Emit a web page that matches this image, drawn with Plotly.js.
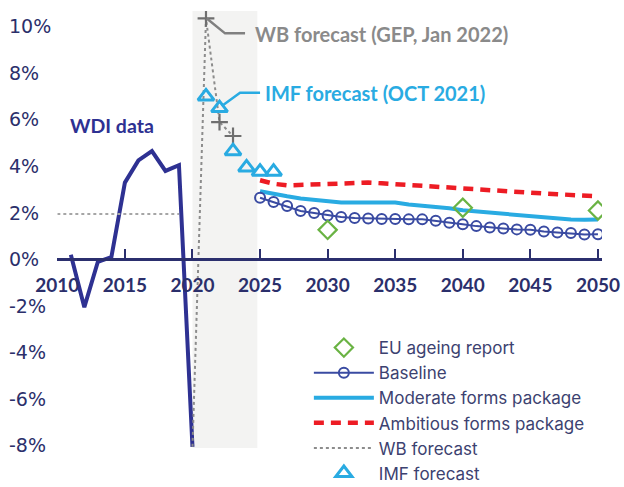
<!DOCTYPE html>
<html>
<head>
<meta charset="utf-8">
<script src="https://cdn.plot.ly/plotly-3.0.1.min.js"></script>
<style>html,body{margin:0;padding:0;background:#fff;}#chart{width:624px;height:487px;}</style>
</head>
<body>
<div id="chart"></div>
<script>
// ---- data ----
const wdiYears = [2011, 2012, 2013, 2014, 2015, 2016, 2017, 2018, 2019, 2020];
const wdiValues = [0.2, -2.05, -0.1, 0.1, 3.3, 4.25, 4.65, 3.8, 4.05, -8.05];

const wbYears = [2020, 2021, 2022, 2023];
const wbValues = [-8.05, 10.35, 5.9, 5.3];

const wbAvgYears = [2010, 2011, 2012, 2013, 2014, 2015, 2016, 2017, 2018, 2019];
const wbAvgValues = [1.95, 1.95, 1.95, 1.95, 1.95, 1.95, 1.95, 1.95, 1.95, 1.95];

const imfYears = [2021, 2022, 2023, 2024, 2025, 2026];
const imfValues = [7.0, 6.5, 4.65, 3.95, 3.77, 3.77];

const euYears = [2030, 2040, 2050];
const euValues = [1.27, 2.22, 2.1];

const projYears = [2025, 2026, 2027, 2028, 2029, 2030, 2031, 2032, 2033, 2034, 2035, 2036, 2037,
                   2038, 2039, 2040, 2041, 2042, 2043, 2044, 2045, 2046, 2047, 2048, 2049, 2050];
const baselineValues = [2.65, 2.47, 2.29, 2.08, 1.99, 1.89, 1.82, 1.78, 1.76, 1.74, 1.74, 1.72, 1.72,
                        1.66, 1.57, 1.51, 1.43, 1.37, 1.33, 1.29, 1.27, 1.20, 1.16, 1.13, 1.07, 1.08];
const moderateValues = [2.93, 2.80, 2.71, 2.62, 2.55, 2.49, 2.45, 2.44, 2.44, 2.44, 2.44, 2.36, 2.30,
                        2.28, 2.20, 2.11, 2.06, 2.01, 1.97, 1.90, 1.83, 1.80, 1.76, 1.71, 1.70, 1.71];
const ambitiousValues = [3.40, 3.25, 3.18, 3.20, 3.23, 3.27, 3.30, 3.31, 3.30, 3.27, 3.23, 3.19, 3.15,
                         3.11, 3.07, 3.03, 3.00, 2.96, 2.93, 2.89, 2.86, 2.83, 2.80, 2.77, 2.74, 2.71];

const xTickVals = [2010, 2015, 2020, 2025, 2030, 2035, 2040, 2045, 2050];
const yTickVals = [-8, -6, -4, -2, 0, 2, 4, 6, 8, 10];
const yTickText = ['-8%', '-6%', '-4%', '-2%', '0%', '2%', '4%', '6%', '8%', '10%'];

const seriesNames = ['EU ageing report', 'Baseline', 'Moderate forms package',
                     'Ambitious forms package', 'WB forecast', 'IMF forecast'];

// ---- style ----
const NAVY = '#2e3192';
const TXT = '#2b2f6b';
const LBLUE = '#29abe2';
const yRange = [-8.1, 10.67];
const xRange = [2010, 2050.3];

const traces = [
  { x: wbAvgYears, y: wbAvgValues, yaxis: 'y2', mode: 'lines', showlegend: false, hoverinfo: 'skip',
    line: { color: '#a6a6a6', width: 2.2, dash: 'dot' } },
  { x: wdiYears, y: wdiValues, mode: 'lines', showlegend: false,
    line: { color: NAVY, width: 4 } },
  { x: wbYears, y: wbValues, mode: 'lines', name: seriesNames[4], legendrank: 5,
    line: { color: '#8c8c8c', width: 2, dash: 'dot' } },
  { x: wbYears.slice(1), y: wbValues.slice(1), mode: 'markers', showlegend: false,
    marker: { symbol: 'cross-thin-open', size: 12, color: '#6f6f6f', line: { width: 2.2, color: '#6f6f6f' } } },
  { x: projYears, y: ambitiousValues, mode: 'lines', name: seriesNames[3], legendrank: 4,
    line: { color: '#ed1c24', width: 4.5, dash: '10px,7px' } },
  { x: projYears, y: moderateValues, mode: 'lines', name: seriesNames[2], legendrank: 3,
    line: { color: LBLUE, width: 4 } },
  { x: projYears, y: baselineValues, mode: 'lines+markers', name: seriesNames[1], legendrank: 2,
    line: { color: '#3a4ba2', width: 2 },
    marker: { symbol: 'circle-open', size: 10, color: '#3a4ba2', line: { width: 2, color: '#3a4ba2' } } },
  { x: euYears, y: euValues, mode: 'markers', name: seriesNames[0], legendrank: 1,
    marker: { symbol: 'diamond-open', size: 14, color: '#6ab344', line: { width: 2.2, color: '#6ab344' } } },
  { x: imfYears, y: imfValues, mode: 'markers', name: seriesNames[5], legendrank: 6,
    marker: { symbol: 'triangle-up-open', size: 14, color: LBLUE, line: { width: 3, color: LBLUE } } }
];

const xPos = (0 - yRange[0]) / (yRange[1] - yRange[0]);
const mL = 5, mR = 22.2, plotLeftPx = 57.3;
const domStart = (plotLeftPx - mL) / (624 - mL - mR);

const layout = {
  width: 624, height: 487,
  margin: { l: mL, r: mR, t: 11, b: 38.7, autoexpand: false },
  paper_bgcolor: '#ffffff', plot_bgcolor: 'rgba(0,0,0,0)',
  showlegend: true,
  xaxis: {
    domain: [domStart, 1], automargin: false,
    range: xRange, tickvals: xTickVals, ticktext: xTickVals.map(String),
    anchor: 'free', position: xPos,
    showline: true, linecolor: '#2b2f6e', linewidth: 3,
    ticks: 'inside', ticklen: 9, tickwidth: 2, tickcolor: '#2b2f6e',
    ticklabelstandoff: 8,
    showgrid: false, zeroline: false,
    tickfont: { family: 'Lato', size: 19, color: TXT, weight: 'bold' }
  },
  yaxis: {
    range: yRange, showticklabels: false, automargin: false,
    showgrid: false, zeroline: false, showline: false, ticks: ''
  },
  yaxis2: {
    overlaying: 'y', anchor: 'free', position: 0, side: 'left', automargin: false,
    range: yRange, tickvals: yTickVals, ticktext: yTickText,
    ticklabelposition: 'inside', ticklabeloverflow: 'allow',
    showgrid: false, zeroline: false, showline: false, ticks: '',
    tickfont: { family: 'DejaVu Sans', size: 19, color: TXT }
  },
  legend: {
    x: 0.509, y: 0.27, xanchor: 'left', yanchor: 'top',
    bgcolor: 'rgba(0,0,0,0)', itemwidth: 60,
    font: { family: 'Inter', size: 17, color: '#3c4270' },
    traceorder: 'normal'
  },
  shapes: [
    { type: 'rect', layer: 'below', xref: 'x', yref: 'paper', x0: 2020, x1: 2024.8, y0: 0, y1: 1,
      fillcolor: '#f3f3f2', line: { width: 0 } },
    { type: 'path', xref: 'x', yref: 'y', path: 'M 2021.06 10.35 L 2022.41 9.71 L 2023.89 9.71',
      line: { color: '#808080', width: 2.5 } },
    { type: 'path', xref: 'x', yref: 'y', path: 'M 2022.17 6.59 L 2023.52 7.16 L 2025.0 7.16',
      line: { color: LBLUE, width: 2.5 } }
  ],
  annotations: [
    { x: 2024.45, y: 9.7, xref: 'x', yref: 'y', xanchor: 'left', yanchor: 'middle', showarrow: false,
      text: 'WB forecast (GEP, Jan 2022)', font: { family: 'Lato', size: 20, color: '#8a8a8a', weight: 'bold' } },
    { x: 2025.2, y: 7.13, xref: 'x', yref: 'y', xanchor: 'left', yanchor: 'middle', showarrow: false,
      text: 'IMF forecast (OCT 2021)', font: { family: 'Lato', size: 20, color: LBLUE, weight: 'bold' } },
    { x: 2010.8, y: 5.77, xref: 'x', yref: 'y', xanchor: 'left', yanchor: 'middle', showarrow: false,
      text: 'WDI data', font: { family: 'Lato', size: 19.5, color: NAVY, weight: 'bold' } }
  ]
};

Plotly.newPlot('chart', traces, layout, { displayModeBar: false, staticPlot: true });
</script>
</body>
</html>
